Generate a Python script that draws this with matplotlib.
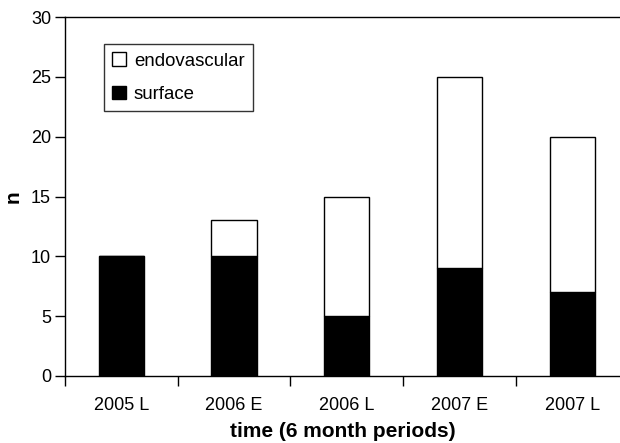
import numpy as np
import matplotlib
matplotlib.use("Agg")
import matplotlib.pyplot as plt
from matplotlib.patches import Patch

plt.rcParams["font.family"] = ["Liberation Sans", "DejaVu Sans"]

periods = ["2005 L", "2006 E", "2006 L", "2007 E", "2007 L"]
surface = [10, 10, 5, 9, 7]
endovascular = [0, 3, 10, 16, 13]

xs = np.arange(len(periods))

fig = plt.figure(figsize=(6.2, 4.43), dpi=100)
ax = fig.add_axes([65 / 620, 1 - 376 / 443, 1 - 65 / 620, 359 / 443])

ax.bar(xs, surface, width=0.4, color="black", edgecolor="black", linewidth=1)
ax.bar(xs, endovascular, width=0.4, bottom=surface, color="white",
       edgecolor="black", linewidth=1)

ax.set_xlim(-0.5, 4.425)
ax.set_ylim(0, 30)
ax.set_yticks([0, 5, 10, 15, 20, 25, 30])
ax.set_xticks(xs)
ax.set_xticklabels(periods)
ax.tick_params(axis="x", length=0, pad=15, labelsize=13)
ax.set_xticks(np.arange(len(periods)) - 0.5, minor=True)
ax.tick_params(axis="x", which="minor", length=7, direction="out", width=1)
ax.tick_params(axis="y", length=7, direction="out", width=1, labelsize=13, pad=3)

ax.spines["right"].set_visible(False)
for s in ["left", "top", "bottom"]:
    ax.spines[s].set_linewidth(1)

ax.set_xlabel("time (6 month periods)", fontweight="bold", fontsize=15, labelpad=6)
ax.set_ylabel("n", fontweight="bold", fontsize=15, labelpad=6)

handles = [Patch(facecolor="white", edgecolor="black", label="endovascular"),
           Patch(facecolor="black", edgecolor="black", label="surface")]
leg = ax.legend(handles=handles, loc="upper left", bbox_to_anchor=(39 / 555, 1 - 27 / 359),
                fontsize=13.4, frameon=True, fancybox=False, edgecolor="black",
                handlelength=0.75, handleheight=0.75, handletextpad=0.4,
                borderpad=0.45, labelspacing=0.85, borderaxespad=0)
leg.get_frame().set_linewidth(1)

plt.savefig("out.png", dpi=100)
